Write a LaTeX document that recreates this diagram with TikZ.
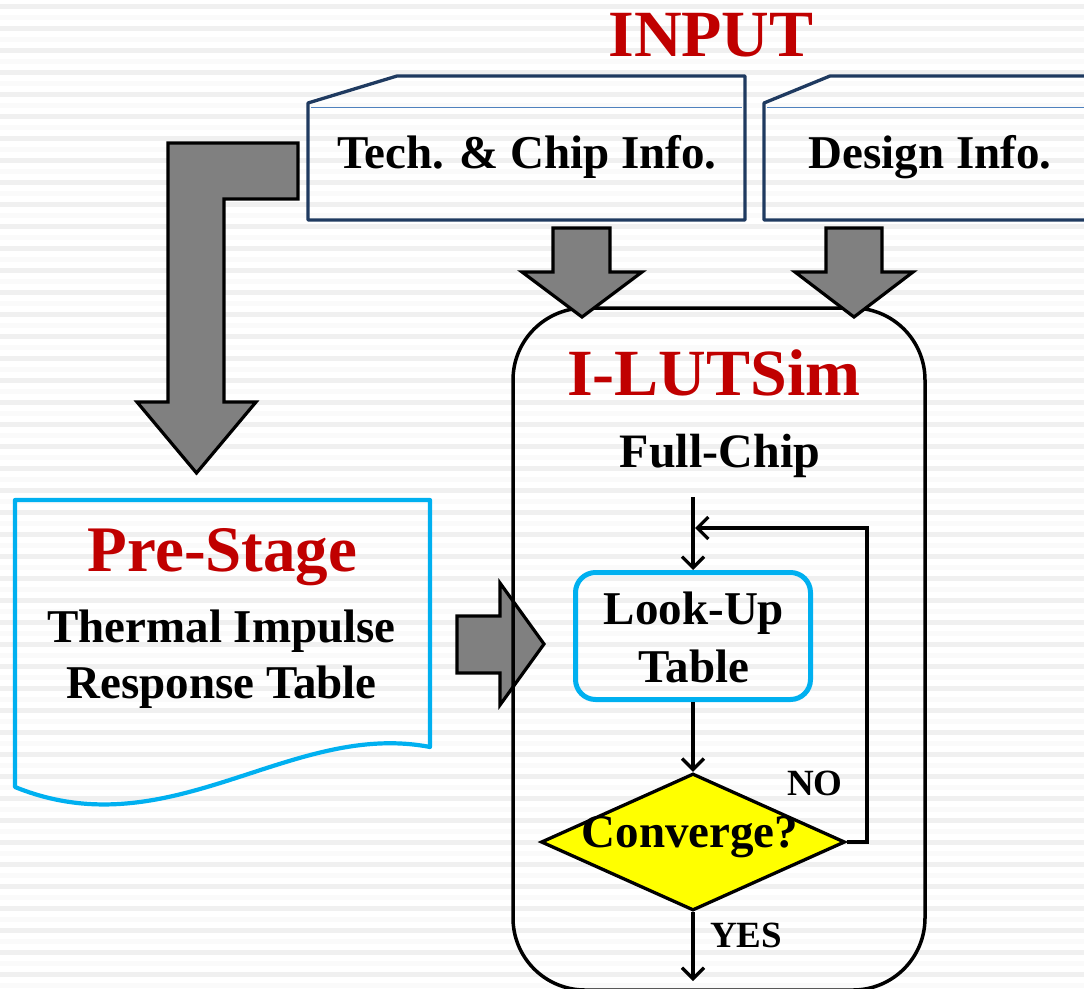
\documentclass[tikz,border=0pt]{standalone}
\usepackage{fontspec}
\setmainfont{Liberation Serif}
\usetikzlibrary{shapes.geometric,arrows.meta}
\definecolor{redt}{HTML}{C00000}
\definecolor{arrowgray}{HTML}{808080}
\definecolor{navy}{HTML}{1F3A60}
\definecolor{lightnavy}{HTML}{4F81BD}
\definecolor{cyanb}{HTML}{00B0F0}
\definecolor{yel}{HTML}{FFFF00}
\definecolor{stripe}{HTML}{F0F0F0}
\definecolor{stripeb}{HTML}{FAFAFA}
\tikzset{
  blk/.style={fill=arrowgray, draw=black, line width=3.2pt, line join=miter},
  infobox/.style={draw=navy, line width=3.3pt, line join=round},
  lbl/.style={anchor=base, inner sep=0pt, font=\bfseries\fontsize{47}{56}\selectfont},
  ttl/.style={anchor=base, inner sep=0pt, text=redt, font=\bfseries\fontsize{66}{70}\selectfont},
  smalllbl/.style={anchor=base, inner sep=0pt, font=\bfseries\fontsize{37}{40}\selectfont},
  flow/.style={draw=black, line width=3.3pt, -{Straight Barb[length=11pt,width=22pt]}},
}
\begin{document}
\begin{tikzpicture}[x=1pt,y=-1pt]
\useasboundingbox (0,0) rectangle (1084,988);
\clip (0,0) rectangle (1084,988);
% background stripes
\foreach \k in {0,...,45} {
  \fill[stripe] (0,4+22*\k) rectangle (1084,9+22*\k);
  \fill[stripeb] (0,15+22*\k) rectangle (1084,20+22*\k);
}
% INPUT title
\node[ttl] (input) at (711,56) {INPUT};
% info boxes
\draw[infobox] (308,103) -- (397,76) -- (745,76) -- (745,220) -- (308,220) -- cycle;
\draw[lightnavy, line width=1.8pt] (311,107.5) -- (742,107.5);
\node[lbl] (tech) at (527,168) {Tech. \& Chip Info.};
\draw[infobox] (764,103) -- (830,76) -- (1095,76) -- (1095,220) -- (764,220) -- cycle;
\draw[lightnavy, line width=1.8pt] (767,107.5) -- (1084,107.5);
\node[lbl] (design) at (930,168) {Design Info.};
% L-shaped block arrow
\draw[blk] (168,143) -- (298,143) -- (298,199) -- (224,199) -- (224,402) -- (256,402) -- (196.5,473) -- (137,402) -- (168,402) -- cycle;
% Pre-Stage document
\draw[cyanb, line width=4.2pt, line join=round] (15,500) -- (430,500) -- (430,747) .. controls (290,720) and (170,850) .. (15,787) -- cycle;
\node[anchor=base, inner sep=0pt, text=redt, font=\bfseries\fontsize{65}{70}\selectfont] (pre) at (222.5,571) {Pre-Stage};
\node[lbl] (therm) at (221.5,642) {Thermal Impulse};
\node[lbl] (resp) at (221.5,698) {Response Table};
% right block arrow
\draw[blk] (457,616) -- (500,616) -- (500,583) -- (544,644) -- (500,705) -- (500,673) -- (457,673) -- cycle;
% I-LUTSim container
\node[draw=black, line width=3.5pt, rounded corners=72pt, minimum width=412pt, minimum height=682pt, inner sep=0pt] (sim) at (719,649) {};
% down block arrows
\draw[blk] (553,228) -- (610,228) -- (610,272) -- (642,272) -- (582,317) -- (522,272) -- (553,272) -- cycle;
\draw[blk] (826,228) -- (882,228) -- (882,272) -- (913,272) -- (854,317) -- (795,272) -- (826,272) -- cycle;
\node[ttl] (simt) at (714,395) {I-LUTSim};
\node[anchor=base, inner sep=0pt, font=\bfseries\fontsize{48}{56}\selectfont] (full) at (720,467) {Full-Chip};
% Look-Up table
\node[draw=cyanb, line width=5pt, rounded corners=20pt, minimum width=235pt, minimum height=127pt, inner sep=0pt] (lut) at (693,636) {};
\node[lbl] (lut1) at (694,624) {Look-Up};
\node[lbl] (lut2) at (694,682) {Table};
% decision
\node[diamond, draw=black, fill=yel, line width=3.3pt, minimum width=304pt, minimum height=137pt, inner sep=0pt, aspect=2.2] (conv) at (693,842) {};
\node[lbl] (convt) at (690,847) {Converge?};
\node[smalllbl] (no) at (815,795) {NO};
\node[smalllbl] (yes) at (746,947) {YES};
% flow connectors
\coordinate (fcout) at (693,497);
\coordinate (loopin) at (695,528);
\coordinate (yesout) at (693,981);
\draw[flow] (fcout) -- (lut.north);
\draw[flow] (lut.south) -- (conv.north);
\draw[flow] (conv.east) -- (867,842) -- (867,528) -- (loopin);
\draw[flow] (conv.south) -- (yesout);
\end{tikzpicture}
\end{document}
